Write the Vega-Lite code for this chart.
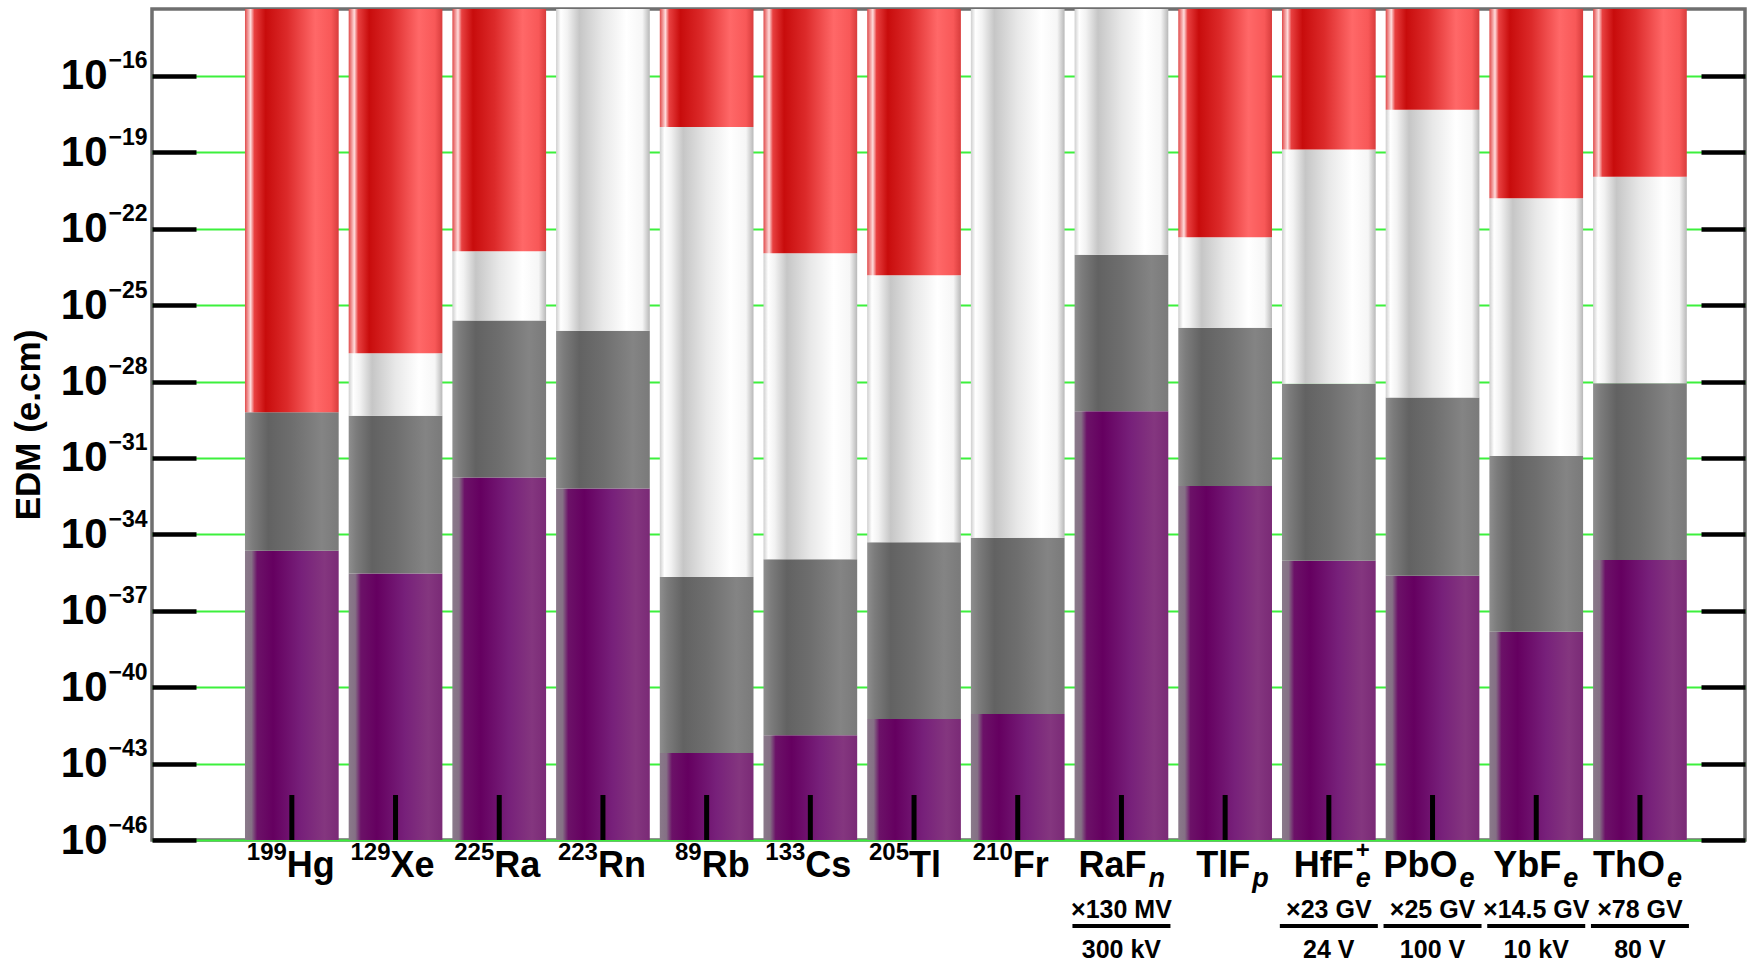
{
  "$schema": "https://vega.github.io/schema/vega-lite/v6.json",
  "width": 1593,
  "height": 831,
  "autosize": {"type": "none"},
  "padding": {"left": 152, "top": 9, "right": 7, "bottom": 123},
  "background": "white",
  "config": {
    "view": {"stroke": "#6f6f6f", "strokeWidth": 3.5},
    "font": "Liberation Sans",
    "text": {"font": "Liberation Sans", "color": "#000000"}
  },
  "datasets": {
    "seg": [
      {"name": "199Hg", "seg": "red", "lo": 6.2e-30, "hi": 4.27e-14},
      {"name": "199Hg", "seg": "gray", "lo": 2.3e-35, "hi": 6.2e-30},
      {"name": "199Hg", "seg": "purple", "lo": 1e-46, "hi": 2.3e-35},
      {"name": "129Xe", "seg": "red", "lo": 1.3e-27, "hi": 4.27e-14},
      {"name": "129Xe", "seg": "white", "lo": 4.6e-30, "hi": 1.3e-27},
      {"name": "129Xe", "seg": "gray", "lo": 2.9e-36, "hi": 4.6e-30},
      {"name": "129Xe", "seg": "purple", "lo": 1e-46, "hi": 2.9e-36},
      {"name": "225Ra", "seg": "red", "lo": 1.3e-23, "hi": 4.27e-14},
      {"name": "225Ra", "seg": "white", "lo": 2.5e-26, "hi": 1.3e-23},
      {"name": "225Ra", "seg": "gray", "lo": 1.7e-32, "hi": 2.5e-26},
      {"name": "225Ra", "seg": "purple", "lo": 1e-46, "hi": 1.7e-32},
      {"name": "223Rn", "seg": "white", "lo": 1e-26, "hi": 4.27e-14},
      {"name": "223Rn", "seg": "gray", "lo": 6.3e-33, "hi": 1e-26},
      {"name": "223Rn", "seg": "purple", "lo": 1e-46, "hi": 6.3e-33},
      {"name": "89Rb", "seg": "red", "lo": 1e-18, "hi": 4.27e-14},
      {"name": "89Rb", "seg": "white", "lo": 2.1e-36, "hi": 1e-18},
      {"name": "89Rb", "seg": "gray", "lo": 2.6e-43, "hi": 2.1e-36},
      {"name": "89Rb", "seg": "purple", "lo": 1e-46, "hi": 2.6e-43},
      {"name": "133Cs", "seg": "red", "lo": 1.1e-23, "hi": 4.27e-14},
      {"name": "133Cs", "seg": "white", "lo": 1.05e-35, "hi": 1.1e-23},
      {"name": "133Cs", "seg": "gray", "lo": 1.3e-42, "hi": 1.05e-35},
      {"name": "133Cs", "seg": "purple", "lo": 1e-46, "hi": 1.3e-42},
      {"name": "205Tl", "seg": "red", "lo": 1.5e-24, "hi": 4.27e-14},
      {"name": "205Tl", "seg": "white", "lo": 4.9e-35, "hi": 1.5e-24},
      {"name": "205Tl", "seg": "gray", "lo": 5.6e-42, "hi": 4.9e-35},
      {"name": "205Tl", "seg": "purple", "lo": 1e-46, "hi": 5.6e-42},
      {"name": "210Fr", "seg": "white", "lo": 7.4e-35, "hi": 4.27e-14},
      {"name": "210Fr", "seg": "gray", "lo": 8.9e-42, "hi": 7.4e-35},
      {"name": "210Fr", "seg": "purple", "lo": 1e-46, "hi": 8.9e-42},
      {"name": "RaFn", "seg": "white", "lo": 9.5e-24, "hi": 4.27e-14},
      {"name": "RaFn", "seg": "gray", "lo": 6.8e-30, "hi": 9.5e-24},
      {"name": "RaFn", "seg": "purple", "lo": 1e-46, "hi": 6.8e-30},
      {"name": "TlFp", "seg": "red", "lo": 4.7e-23, "hi": 4.27e-14},
      {"name": "TlFp", "seg": "white", "lo": 1.3e-26, "hi": 4.7e-23},
      {"name": "TlFp", "seg": "gray", "lo": 7.9e-33, "hi": 1.3e-26},
      {"name": "TlFp", "seg": "purple", "lo": 1e-46, "hi": 7.9e-33},
      {"name": "HfFe", "seg": "red", "lo": 1.3e-19, "hi": 4.27e-14},
      {"name": "HfFe", "seg": "white", "lo": 8.3e-29, "hi": 1.3e-19},
      {"name": "HfFe", "seg": "gray", "lo": 9.3e-36, "hi": 8.3e-29},
      {"name": "HfFe", "seg": "purple", "lo": 1e-46, "hi": 9.3e-36},
      {"name": "PbOe", "seg": "red", "lo": 4.7e-18, "hi": 4.27e-14},
      {"name": "PbOe", "seg": "white", "lo": 2.4e-29, "hi": 4.7e-18},
      {"name": "PbOe", "seg": "gray", "lo": 2.4e-36, "hi": 2.4e-29},
      {"name": "PbOe", "seg": "purple", "lo": 1e-46, "hi": 2.4e-36},
      {"name": "YbFe", "seg": "red", "lo": 1.6e-21, "hi": 4.27e-14},
      {"name": "YbFe", "seg": "white", "lo": 1.2e-31, "hi": 1.6e-21},
      {"name": "YbFe", "seg": "gray", "lo": 1.5e-38, "hi": 1.2e-31},
      {"name": "YbFe", "seg": "purple", "lo": 1e-46, "hi": 1.5e-38},
      {"name": "ThOe", "seg": "red", "lo": 1.1e-20, "hi": 4.27e-14},
      {"name": "ThOe", "seg": "white", "lo": 8.7e-29, "hi": 1.1e-20},
      {"name": "ThOe", "seg": "gray", "lo": 9.8e-36, "hi": 8.7e-29},
      {"name": "ThOe", "seg": "purple", "lo": 1e-46, "hi": 9.8e-36}
    ],
    "lab": [
      {"name": "199Hg", "sup": "199", "main": "Hg"},
      {"name": "129Xe", "sup": "129", "main": "Xe"},
      {"name": "225Ra", "sup": "225", "main": "Ra"},
      {"name": "223Rn", "sup": "223", "main": "Rn"},
      {"name": "89Rb", "sup": "89", "main": "Rb"},
      {"name": "133Cs", "sup": "133", "main": "Cs"},
      {"name": "205Tl", "sup": "205", "main": "Tl"},
      {"name": "210Fr", "sup": "210", "main": "Fr"},
      {"name": "RaFn", "main": "RaF", "sub": "n", "top": "×130 MV", "bot": "300 kV"},
      {"name": "TlFp", "main": "TlF", "sub": "p"},
      {"name": "HfFe", "main": "HfF", "sub": "e", "plus": "+", "top": "×23 GV", "bot": "24 V"},
      {"name": "PbOe", "main": "PbO", "sub": "e", "top": "×25 GV", "bot": "100 V"},
      {"name": "YbFe", "main": "YbF", "sub": "e", "top": "×14.5 GV", "bot": "10 kV"},
      {"name": "ThOe", "main": "ThO", "sub": "e", "top": "×78 GV", "bot": "80 V"}
    ]
  },
  "resolve": {"axis": {"y": "independent"}},
  "layer": [
    {
      "data": {"name": "seg"},
      "transform": [{"filter": "datum.seg === 'purple'"}],
      "mark": {"type": "bar", "fill": {"gradient": "linear", "x1": 0, "y1": 0, "x2": 1, "y2": 0, "stops": [
        {"offset": 0, "color": "#8a7a8a"}, {"offset": 0.07, "color": "#857085"}, {"offset": 0.13, "color": "#6c1268"},
        {"offset": 0.3, "color": "#650060"}, {"offset": 0.6, "color": "#77207a"}, {"offset": 0.85, "color": "#84367f"}, {"offset": 1, "color": "#7a2a76"}]}},
      "encoding": {
        "x": {"field": "name", "type": "nominal", "axis": null, "scale": {"domain": ["199Hg", "129Xe", "225Ra", "223Rn", "89Rb", "133Cs", "205Tl", "210Fr", "RaFn", "TlFp", "HfFe", "PbOe", "YbFe", "ThOe"], "paddingInner": 0.0964, "paddingOuter": 0.729, "align": 0.615, "round": false}},
        "y": {"field": "lo", "type": "quantitative", "scale": {"type": "log", "domain": [1e-46, 4.27e-14], "nice": false},
          "axis": {"orient": "left", "values": [1e-16, 1e-19, 1e-22, 1e-25, 1e-28, 1e-31, 1e-34, 1e-37, 1e-40, 1e-43, 1e-46],
            "labelExpr": "'10'", "labelAlign": "right", "labelBaseline": "middle",
            "title": "EDM (e.cm)", "titleFontSize": 35, "titleFontWeight": "bold", "titleColor": "#000000", "titlePadding": 14,
            "labelFontSize": 42, "labelFontWeight": "bold", "labelColor": "#000000", "labelPadding": 89,
            "tickSize": -44, "tickWidth": 4.5, "tickColor": "#000000", "domain": false,
            "grid": true, "gridColor": "#3cf03c", "gridWidth": 2, "zindex": 0}},
        "y2": {"field": "hi"}
      }
    },
    {
      "data": {"name": "seg"},
      "transform": [{"filter": "datum.seg === 'gray'"}],
      "mark": {"type": "bar", "fill": {"gradient": "linear", "x1": 0, "y1": 0, "x2": 1, "y2": 0, "stops": [
        {"offset": 0, "color": "#8e8e8e"}, {"offset": 0.08, "color": "#7c7c7c"}, {"offset": 0.25, "color": "#626262"},
        {"offset": 0.5, "color": "#6e6e6e"}, {"offset": 0.82, "color": "#848484"}, {"offset": 1, "color": "#7a7a7a"}]}},
      "encoding": {
        "x": {"field": "name", "type": "nominal", "axis": null, "scale": {"domain": ["199Hg", "129Xe", "225Ra", "223Rn", "89Rb", "133Cs", "205Tl", "210Fr", "RaFn", "TlFp", "HfFe", "PbOe", "YbFe", "ThOe"], "paddingInner": 0.0964, "paddingOuter": 0.729, "align": 0.615, "round": false}},
        "y": {"field": "lo", "type": "quantitative", "scale": {"type": "log", "domain": [1e-46, 4.27e-14], "nice": false},
          "axis": {"orient": "left", "values": [1e-16, 1e-19, 1e-22, 1e-25, 1e-28, 1e-31, 1e-34, 1e-37, 1e-40, 1e-43, 1e-46],
            "labelExpr": "'−' + toString(-round(log(datum.value)/LN10))", "labelAlign": "left", "labelBaseline": "middle",
            "labelFontSize": 23, "labelFontWeight": "bold", "labelColor": "#000000", "labelPadding": 44, "labelOffset": -15,
            "ticks": false, "title": null, "domain": false, "grid": false, "zindex": 0}},
        "y2": {"field": "hi"}
      }
    },
    {
      "data": {"name": "seg"},
      "transform": [{"filter": "datum.seg === 'white'"}],
      "mark": {"type": "bar", "fill": {"gradient": "linear", "x1": 0, "y1": 0, "x2": 1, "y2": 0, "stops": [
        {"offset": 0, "color": "#cfcfcf"}, {"offset": 0.05, "color": "#ffffff"}, {"offset": 0.12, "color": "#f2f2f2"},
        {"offset": 0.25, "color": "#c6c6c6"}, {"offset": 0.5, "color": "#e8e8e8"}, {"offset": 0.75, "color": "#ffffff"},
        {"offset": 0.92, "color": "#f6f6f6"}, {"offset": 1, "color": "#b8b8b8"}]}},
      "encoding": {
        "x": {"field": "name", "type": "nominal", "axis": null, "scale": {"domain": ["199Hg", "129Xe", "225Ra", "223Rn", "89Rb", "133Cs", "205Tl", "210Fr", "RaFn", "TlFp", "HfFe", "PbOe", "YbFe", "ThOe"], "paddingInner": 0.0964, "paddingOuter": 0.729, "align": 0.615, "round": false}},
        "y": {"field": "lo", "type": "quantitative", "scale": {"type": "log", "domain": [1e-46, 4.27e-14], "nice": false},
          "axis": {"orient": "right", "values": [1e-16, 1e-19, 1e-22, 1e-25, 1e-28, 1e-31, 1e-34, 1e-37, 1e-40, 1e-43, 1e-46],
            "labels": false, "title": null, "tickSize": -44, "tickWidth": 4.5, "tickColor": "#000000", "domain": false, "grid": false, "zindex": 0}},
        "y2": {"field": "hi"}
      }
    },
    {
      "data": {"name": "seg"},
      "transform": [{"filter": "datum.seg === 'red'"}],
      "mark": {"type": "bar", "fill": {"gradient": "linear", "x1": 0, "y1": 0, "x2": 1, "y2": 0, "stops": [
        {"offset": 0, "color": "#e04a4a"}, {"offset": 0.06, "color": "#ffdcdc"}, {"offset": 0.1, "color": "#e84040"},
        {"offset": 0.22, "color": "#c80c0c"}, {"offset": 0.45, "color": "#dc2a2a"}, {"offset": 0.75, "color": "#ff6868"},
        {"offset": 0.92, "color": "#f85858"}, {"offset": 1, "color": "#d83c3c"}]}},
      "encoding": {
        "x": {"field": "name", "type": "nominal", "axis": null, "scale": {"domain": ["199Hg", "129Xe", "225Ra", "223Rn", "89Rb", "133Cs", "205Tl", "210Fr", "RaFn", "TlFp", "HfFe", "PbOe", "YbFe", "ThOe"], "paddingInner": 0.0964, "paddingOuter": 0.729, "align": 0.615, "round": false}},
        "y": {"field": "lo", "type": "quantitative", "scale": {"type": "log", "domain": [1e-46, 4.27e-14], "nice": false}, "axis": null},
        "y2": {"field": "hi"}
      }
    },
    {
      "data": {"name": "lab"},
      "mark": {"type": "rule", "color": "#000000", "strokeWidth": 5},
      "encoding": {
        "x": {"field": "name", "type": "nominal", "axis": null},
        "y": {"datum": 1e-46, "type": "quantitative", "scale": {"type": "log", "domain": [1e-46, 4.27e-14], "nice": false}, "axis": null},
        "y2": {"datum": 5.85e-45}
      }
    },
    {
      "data": {"name": "lab"},
      "transform": [{"filter": "datum.sup"}],
      "mark": {"type": "text", "align": "right", "baseline": "alphabetic", "dx": -5, "dy": 20, "fontSize": 24, "fontWeight": "bold"},
      "encoding": {
        "x": {"field": "name", "type": "nominal", "axis": null},
        "y": {"datum": 1e-46, "type": "quantitative", "scale": {"type": "log", "domain": [1e-46, 4.27e-14], "nice": false}, "axis": null},
        "text": {"field": "sup"}
      }
    },
    {
      "data": {"name": "lab"},
      "transform": [{"filter": "datum.sup"}],
      "mark": {"type": "text", "align": "left", "baseline": "alphabetic", "dx": -5, "dy": 37, "fontSize": 36, "fontWeight": "bold"},
      "encoding": {
        "x": {"field": "name", "type": "nominal", "axis": null},
        "y": {"datum": 1e-46, "type": "quantitative", "scale": {"type": "log", "domain": [1e-46, 4.27e-14], "nice": false}, "axis": null},
        "text": {"field": "main"}
      }
    },
    {
      "data": {"name": "lab"},
      "transform": [{"filter": "!datum.sup"}],
      "mark": {"type": "text", "align": "right", "baseline": "alphabetic", "dx": 25, "dy": 37, "fontSize": 36, "fontWeight": "bold"},
      "encoding": {
        "x": {"field": "name", "type": "nominal", "axis": null},
        "y": {"datum": 1e-46, "type": "quantitative", "scale": {"type": "log", "domain": [1e-46, 4.27e-14], "nice": false}, "axis": null},
        "text": {"field": "main"}
      }
    },
    {
      "data": {"name": "lab"},
      "transform": [{"filter": "datum.sub"}],
      "mark": {"type": "text", "align": "left", "baseline": "alphabetic", "dx": 27, "dy": 47, "fontSize": 27, "fontWeight": "bold", "fontStyle": "italic"},
      "encoding": {
        "x": {"field": "name", "type": "nominal", "axis": null},
        "y": {"datum": 1e-46, "type": "quantitative", "scale": {"type": "log", "domain": [1e-46, 4.27e-14], "nice": false}, "axis": null},
        "text": {"field": "sub"}
      }
    },
    {
      "data": {"name": "lab"},
      "transform": [{"filter": "datum.plus"}],
      "mark": {"type": "text", "align": "left", "baseline": "alphabetic", "dx": 27, "dy": 18, "fontSize": 24, "fontWeight": "bold"},
      "encoding": {
        "x": {"field": "name", "type": "nominal", "axis": null},
        "y": {"datum": 1e-46, "type": "quantitative", "scale": {"type": "log", "domain": [1e-46, 4.27e-14], "nice": false}, "axis": null},
        "text": {"field": "plus"}
      }
    },
    {
      "data": {"name": "lab"},
      "transform": [{"filter": "datum.top"}],
      "mark": {"type": "text", "align": "center", "baseline": "alphabetic", "dy": 78, "fontSize": 25, "fontWeight": "bold"},
      "encoding": {
        "x": {"field": "name", "type": "nominal", "axis": null},
        "y": {"datum": 1e-46, "type": "quantitative", "scale": {"type": "log", "domain": [1e-46, 4.27e-14], "nice": false}, "axis": null},
        "text": {"field": "top"}
      }
    },
    {
      "data": {"name": "lab"},
      "transform": [{"filter": "datum.top"}],
      "mark": {"type": "tick", "orient": "horizontal", "size": 98, "thickness": 4, "color": "#000000", "opacity": 1, "yOffset": 86},
      "encoding": {
        "x": {"field": "name", "type": "nominal", "axis": null},
        "y": {"datum": 1e-46, "type": "quantitative", "scale": {"type": "log", "domain": [1e-46, 4.27e-14], "nice": false}, "axis": null}
      }
    },
    {
      "data": {"name": "lab"},
      "transform": [{"filter": "datum.bot"}],
      "mark": {"type": "text", "align": "center", "baseline": "alphabetic", "dy": 118, "fontSize": 25, "fontWeight": "bold"},
      "encoding": {
        "x": {"field": "name", "type": "nominal", "axis": null},
        "y": {"datum": 1e-46, "type": "quantitative", "scale": {"type": "log", "domain": [1e-46, 4.27e-14], "nice": false}, "axis": null},
        "text": {"field": "bot"}
      }
    }
  ]
}
